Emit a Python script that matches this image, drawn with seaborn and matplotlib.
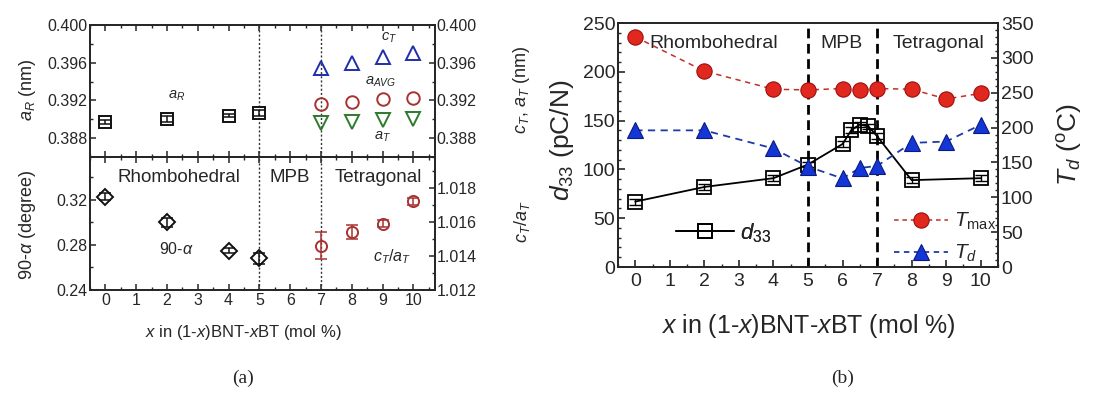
import matplotlib
matplotlib.use("Agg")
import matplotlib.pyplot as plt
import seaborn as sns
import pandas as pd
from matplotlib.ticker import MultipleLocator
from matplotlib.lines import Line2D

# ---------------- data: panel (a) ----------------
x_R = [0, 2, 4, 5]
a_R = [0.3897, 0.3900, 0.3904, 0.3907]
a_R_err = [0.0002, 0.0003, 0.0002, 0.0003]
x_T = [7, 8, 9, 10]
c_T = [0.3954, 0.3960, 0.3966, 0.3970]
a_AVG = [0.3916, 0.3918, 0.3922, 0.3923]
a_T = [0.3896, 0.3897, 0.3899, 0.3900]
alpha90 = [0.3227, 0.300, 0.275, 0.268]
alpha90_err = [0.003, 0.004, 0.002, 0.005]
c_over_a = [1.0146, 1.0154, 1.0159, 1.0172]
c_over_a_err = [0.0008, 0.0004, 0.0002, 0.0002]

# ---------------- data: panel (b) ----------------
x_d33 = [0, 2, 4, 5, 6, 6.25, 6.5, 6.75, 7, 8, 10]
d33 = [67, 82, 91, 105, 126, 140, 146, 144, 134, 89, 91]
d33_err = [3, 3, 3, 3, 3, 3, 3, 3, 3, 3, 3]
x_temp = [0, 2, 4, 5, 6, 6.5, 7, 8, 9, 10]
T_max = [330, 281, 255, 254, 256, 254, 256, 255, 241, 249]
T_d = [196, 196, 170, 144, 127, 142, 145, 178, 180, 204]

phase_labels = ["Rhombohedral", "MPB", "Tetragonal"]
x_ticks = list(range(0, 11))

sns.set_theme(style="ticks")
plt.rcParams["font.family"] = ["Liberation Sans", "DejaVu Sans"]
plt.rcParams["mathtext.fontset"] = "custom"
plt.rcParams["mathtext.rm"] = "Liberation Sans"
plt.rcParams["mathtext.it"] = "Liberation Sans:italic"
plt.rcParams["mathtext.bf"] = "Liberation Sans:bold"
plt.rcParams["axes.linewidth"] = 1.3

fig = plt.figure(figsize=(11.01, 3.96), dpi=100)

W, H = 1101.0, 396.0
def rect(l, t, r, b):
    return [l / W, 1 - b / H, (r - l) / W, (b - t) / H]

ax_top = fig.add_axes(rect(90, 25, 435, 157))
ax_bot = fig.add_axes(rect(90, 157, 435, 290))
ax_top_r = ax_top.twinx()
ax_bot_r = ax_bot.twinx()

tfs_a = 11.5
BLK = "#111111"
BLUE_A = "#1f2fa8"
RED_A = "#a83232"
GREEN_A = "#2d7a2d"

def open_markers(ax, xs, ys, marker, color, ms=8, yerr=None):
    if yerr is not None:
        ax.errorbar(xs, ys, yerr=yerr, fmt="none", ecolor=color, elinewidth=1.1,
                    capsize=4, capthick=1.1, zorder=2)
    sns.lineplot(x=xs, y=ys, ax=ax, marker=marker, linestyle="", color=color,
                 markerfacecolor="none", markeredgecolor=color, markeredgewidth=1.4,
                 markersize=ms, zorder=3)

# top panel (a)
open_markers(ax_top, x_R, a_R, "s", BLK, ms=8, yerr=a_R_err)
open_markers(ax_top_r, x_T, c_T, "^", BLUE_A, ms=9.5)
open_markers(ax_top_r, x_T, a_AVG, "o", RED_A, ms=9)
open_markers(ax_top_r, x_T, a_T, "v", GREEN_A, ms=9.5)

# bottom panel (a)
open_markers(ax_bot, x_R, alpha90, "D", BLK, ms=8, yerr=alpha90_err)
open_markers(ax_bot_r, x_T, c_over_a, "o", RED_A, ms=8, yerr=c_over_a_err)

for ax in (ax_top, ax_top_r):
    ax.set_ylim(0.386, 0.400)
    ax.yaxis.set_major_locator(MultipleLocator(0.004))
    ax.yaxis.set_minor_locator(MultipleLocator(0.002))
    ax.yaxis.set_major_formatter(matplotlib.ticker.FormatStrFormatter("%.3f"))
ax_bot.set_ylim(0.24, 0.358)
ax_bot.yaxis.set_major_locator(MultipleLocator(0.04))
ax_bot.yaxis.set_minor_locator(MultipleLocator(0.02))
ax_bot.yaxis.set_major_formatter(matplotlib.ticker.FormatStrFormatter("%.2f"))
ax_bot_r.set_ylim(1.012, 1.0198)
ax_bot_r.yaxis.set_major_locator(MultipleLocator(0.002))
ax_bot_r.yaxis.set_minor_locator(MultipleLocator(0.001))
ax_bot_r.yaxis.set_major_formatter(matplotlib.ticker.FormatStrFormatter("%.3f"))

for ax in (ax_top, ax_bot, ax_top_r, ax_bot_r):
    ax.set_xlim(-0.5, 10.7)
    ax.set_xticks(x_ticks)
    ax.xaxis.set_minor_locator(MultipleLocator(0.5))
    ax.tick_params(which="both", direction="in", top=True, labelsize=tfs_a, pad=2)
    ax.tick_params(which="major", length=4, width=1.1)
    ax.tick_params(which="minor", length=2, width=1.0)
    ax.set_xlabel("")
    ax.set_ylabel("")
for ax in (ax_top, ax_top_r):
    ax.tick_params(labelbottom=False)
ax_bot.tick_params(axis="x", labelsize=tfs_a)
ax_top_r.tick_params(axis="y", pad=1)
ax_bot_r.tick_params(axis="y", pad=1)

for ax in (ax_top, ax_bot):
    for xv in (5, 7):
        ax.axvline(xv, color="#333333", linestyle=(0, (1.5, 1.5)), linewidth=1.0, zorder=1)

# annotations (a)
ax_top.text(2.3, 0.3925, "$a_R$", fontsize=10.5, ha="center", va="center")
ax_top_r.text(9.2, 0.3986, "$c_T$", fontsize=10.5, ha="center", va="center")
ax_top_r.text(8.95, 0.3940, "$a_{AVG}$", fontsize=10.5, ha="center", va="center")
ax_top_r.text(9.0, 0.3881, "$a_T$", fontsize=10.5, ha="center", va="center")
ax_bot.text(2.4, 0.340, "Rhombohedral", fontsize=13.5, ha="center", va="center")
ax_bot.text(6.0, 0.340, "MPB", fontsize=13.5, ha="center", va="center")
ax_bot.text(8.85, 0.340, "Tetragonal", fontsize=13.5, ha="center", va="center")
ax_bot.text(2.3, 0.2765, "90-$\\alpha$", fontsize=11.5, ha="center", va="center")
ax_bot.text(9.3, 0.270, "$c_T$/$a_T$", fontsize=11.5, ha="center", va="center")

fig.text(28 / W, 1 - 90 / H, "$a_R$ (nm)", rotation=90, fontsize=13, ha="center", va="center")
fig.text(28 / W, 1 - 225 / H, "90-$\\alpha$ (degree)", rotation=90, fontsize=13, ha="center", va="center")
fig.text(522 / W, 1 - 90 / H, "$c_T$, $a_T$ (nm)", rotation=90, fontsize=13, ha="center", va="center")
fig.text(522 / W, 1 - 222 / H, "$c_T$/$a_T$", rotation=90, fontsize=13, ha="center", va="center")
fig.text(243 / W, 1 - 332 / H, "$x$ in (1-$x$)BNT-$x$BT (mol %)", fontsize=12, ha="center", va="center")

# ---------------- panel (b) ----------------
ax_b = fig.add_axes(rect(618, 23, 998, 267))
ax_b2 = ax_b.twinx()

RED_B = "#e0281e"
RED_BE = "#9a1010"
BLUE_B = "#1436d6"
BLUE_BE = "#0a1a80"

ax_b.errorbar(x_d33, d33, yerr=d33_err, fmt="none", ecolor="black", elinewidth=1.0,
              capsize=4, capthick=1.0, zorder=2)
sns.lineplot(x=x_d33, y=d33, ax=ax_b, color="black", linewidth=1.3, marker="s",
             markersize=10, markerfacecolor="none", markeredgecolor="black",
             markeredgewidth=1.3, zorder=3)
sns.lineplot(x=x_temp, y=T_max, ax=ax_b2, color="#c0302a", linewidth=1.1,
             linestyle=(0, (3.5, 3)), marker="o", markersize=11,
             markerfacecolor=RED_B, markeredgecolor=RED_BE, markeredgewidth=0.8, zorder=3)
sns.lineplot(x=x_temp, y=T_d, ax=ax_b2, color="#1f3aa8", linewidth=1.3,
             linestyle=(0, (4, 3)), marker="^", markersize=12,
             markerfacecolor=BLUE_B, markeredgecolor=BLUE_BE, markeredgewidth=0.8, zorder=3)

for xv in (5, 7):
    ax_b.axvline(xv, color="black", linestyle=(0, (3.5, 2)), linewidth=2.0, zorder=1)

ax_b.set_xlim(-0.5, 10.5)
ax_b.set_ylim(0, 250)
ax_b2.set_ylim(0, 350)
ax_b.set_xticks(x_ticks)
ax_b.xaxis.set_minor_locator(MultipleLocator(0.5))
ax_b.yaxis.set_major_locator(MultipleLocator(50))
ax_b.yaxis.set_minor_locator(MultipleLocator(10))
ax_b2.yaxis.set_major_locator(MultipleLocator(50))
ax_b2.yaxis.set_minor_locator(MultipleLocator(10))
for ax in (ax_b, ax_b2):
    ax.tick_params(which="both", direction="in", labelsize=14)
    ax.tick_params(which="major", length=5, width=1.2)
    ax.tick_params(which="minor", length=2.5, width=1.0)
    ax.set_xlabel("")
    ax.set_ylabel("")
ax_b.tick_params(axis="y", pad=2)
ax_b2.tick_params(axis="y", pad=2)
ax_b.tick_params(axis="x", pad=4)

ax_b.text(2.28, 229, "Rhombohedral", fontsize=14, ha="center", va="center")
ax_b.text(5.98, 229, "MPB", fontsize=14, ha="center", va="center")
ax_b.text(8.79, 229, "Tetragonal", fontsize=14, ha="center", va="center")

h_d33 = Line2D([], [], color="black", linewidth=1.3, marker="s", markersize=10,
               markerfacecolor="none", markeredgecolor="black", markeredgewidth=1.3)
h_tmax = Line2D([], [], color="#c0302a", linewidth=1.1, linestyle=(0, (3, 2.5)), marker="o",
                markersize=11, markerfacecolor=RED_B, markeredgecolor=RED_BE, markeredgewidth=0.8)
h_td = Line2D([], [], color="#1f3aa8", linewidth=1.3, linestyle=(0, (3, 2.5)), marker="^",
              markersize=12, markerfacecolor=BLUE_B, markeredgecolor=BLUE_BE, markeredgewidth=0.8)
leg1 = ax_b.legend([h_d33], ["$d_{33}$"], loc="lower left", bbox_to_anchor=(0.1, 0.01),
                   frameon=False, fontsize=16, handlelength=2.6, handletextpad=0.3)
ax_b.add_artist(leg1)
ax_b2.legend([h_tmax, h_td], ["$T_{\\rm max}$", "$T_d$"], loc="lower right",
             bbox_to_anchor=(1.045, -0.065), frameon=False, fontsize=15, handlelength=2.6,
             handletextpad=0.3, labelspacing=0.5)

fig.text(562 / W, 1 - 140 / H, "$d_{33}$ (pC/N)", rotation=90, fontsize=19, ha="center", va="center")
fig.text(1070 / W, 1 - 145 / H, "$T_d$ ($^{\\rm o}$C)", rotation=90, fontsize=19, ha="center", va="center")
fig.text(808 / W, 1 - 326 / H, "$x$ in (1-$x$)BNT-$x$BT (mol %)", fontsize=18, ha="center", va="center")

fig.text(243 / W, 1 - 378 / H, "(a)", fontsize=14, family="Liberation Serif", ha="center", va="center")
fig.text(843 / W, 1 - 378 / H, "(b)", fontsize=14, family="Liberation Serif", ha="center", va="center")

fig.savefig("out.png", dpi=100)
